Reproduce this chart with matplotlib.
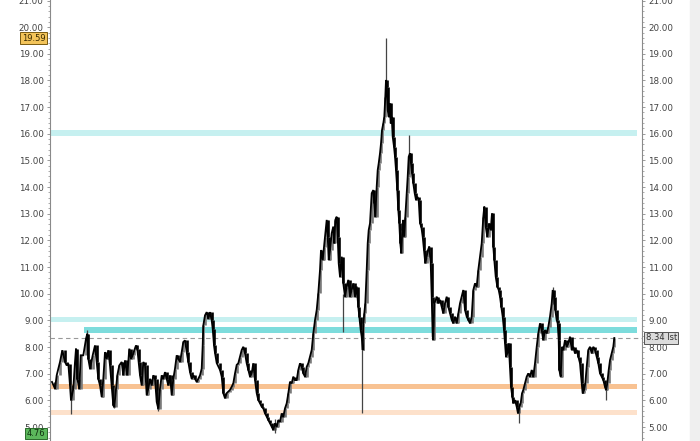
import matplotlib
matplotlib.use("Agg")
import matplotlib.pyplot as plt
from matplotlib.patches import Rectangle
from matplotlib.ticker import MultipleLocator, FormatStrFormatter
from matplotlib.transforms import blended_transform_factory

# session number and closing price
t = [0, 3, 4.7, 8, 10.3, 13, 14.7, 16.3, 18, 19, 21.3, 23, 24, 25.3, 27.3, 28.7, 31.3, 34, 35.3, 36.3,
     38, 40.7, 43, 44.7, 46.3, 48, 49.7, 51.3, 53, 54.7, 56.3, 58, 59.7, 61.3, 62.3, 64, 65.3, 67.3, 69.7, 71.3,
     73, 75.3, 77.3, 79, 80.7, 82.3, 84, 85.3, 86.7, 88, 89.7, 91.3, 93, 94.7, 96.3, 98, 99.7, 101.3, 103, 104.7,
     106.3, 108, 109.7, 111.3, 113, 114.7, 116.3, 118, 119.7, 121.3, 123, 124.7, 126.3, 128, 129.7, 131.3, 133, 134.7, 136.3, 138,
     139.7, 141.3, 143, 144.7, 146.3, 148, 149.7, 150.7, 151.3, 153, 154.7, 156.3, 158, 159.7, 160.7, 162,
     163, 164.7, 168, 169.7, 171.3, 173, 174.7, 176.3, 178, 179.7, 181.3, 183, 184.7, 186.3, 188, 189.7, 191.3, 193, 194.7, 196.3,
     198, 199.7, 201.3, 203, 204.7, 206.3, 208, 209.7, 211.3, 213, 214.7, 216.3, 218, 219.7, 221.3, 223, 224.7, 226.3, 228, 229.7,
     231.3, 233, 234.7, 236.3, 238, 239.7, 241.3, 243, 244.7, 246.3, 248, 249.7, 251.3, 253, 254.7, 256.3, 258, 259.7, 261.3, 263,
     264.7, 266.3, 268, 269, 270.7, 272, 273, 274.7, 275.7, 276.7, 278, 279.7, 281.3, 282.3, 283.3, 284.7, 285.7, 286.7, 288,
     289.7, 291.3, 293, 294.7, 296.3, 298, 299.7, 301.3, 303, 304.7, 306.3, 307.3, 308.7, 309.7, 310.7, 311.3, 312.3, 313.3, 314.7, 315.7,
     316.7, 318, 319.7, 321.3, 322.3, 323.3, 324.7, 325.7, 326.7, 328, 329, 330, 331.3, 332.3, 333.3, 334, 334.7, 335.7, 336.7, 337.7,
     338.7, 339.7, 340.7, 342, 343, 344, 345.3, 346.3, 347.3, 348.3, 349.3, 350.3, 351.3, 352.3, 353.3, 354.7, 355.7, 356.7, 358, 359,
     360, 361.3, 362.7, 364, 365.3, 366.7, 368, 369.3, 370.7, 372, 373.3, 374.7, 376, 377.3, 378.7, 379.7, 380.7, 381.3, 382.3, 383.7,
     384.7, 386.3, 388, 389.7, 391.3, 393, 394.7, 396.3, 398, 399.7, 401.3, 403, 404.7, 406.3, 408, 409.7, 411.3, 413, 414.7, 416.3,
     418, 419.7, 421.3, 423, 424.7, 426.3, 428, 429.7, 431.3,
     432.3, 433.7, 435.3, 437, 438.7, 440, 441.3, 442.3, 443.7, 445.3, 446.7, 448, 449.3, 450.7, 452, 453, 454, 455.3, 456.7, 458,
     459, 460.3, 461.3, 463, 464.7, 466, 467.3, 468.7, 470, 471.3, 473, 474.7, 476.3, 478, 479.7, 481.3, 483, 484.7, 486.3, 488,
     489.7, 491.3, 493, 494.7, 496.3, 498, 499.7, 500.7, 502, 503.3, 504.7, 505.7, 506.7, 507.3, 508.7, 510, 511.3, 513, 514.7, 516.3,
     518, 519.7, 521.3, 523, 524.7, 526.3, 528, 529.7, 530.7, 532, 533.3, 534.7, 536.3, 538, 539.7, 541.3, 543, 544.7, 546.3, 548,
     549.7, 551.3, 553, 554, 555.3, 556.7, 558, 559.7, 561.3, 562.3]

close = [6.69, 6.44, 6.94, 7.44, 7.88, 7.44, 7.31, 7.38, 6.56, 6.0, 6.44, 7.44, 7.94, 6.81, 6.44, 7.69, 7.69, 8.31, 8.5, 7.56,
         7.19, 7.69, 8.06, 7.44, 6.81, 6.56, 6.13, 6.81, 7.81, 7.56, 7.88, 7.31, 6.56, 5.81, 5.75, 6.44, 6.94, 7.31, 7.44, 6.94,
         7.5, 6.94, 7.94, 7.56, 7.69, 7.88, 8.06, 7.94, 7.44, 6.94, 6.56, 7.44, 7.31, 6.19, 6.44, 6.81, 6.56, 6.94, 6.81, 5.94,
         5.69, 6.44, 6.94, 6.81, 7.06, 6.81, 6.56, 6.94, 6.19, 6.81, 7.19, 7.69, 7.56, 7.44, 7.81, 8.19, 8.25, 7.81, 7.44, 7.06,
         6.81, 6.94, 6.81, 6.69, 6.81, 6.94, 7.19, 8.06, 8.81, 9.19, 9.31, 9.06, 9.31, 9.0, 8.69, 8.06,
         7.78, 7.4, 7.14, 6.89, 6.27, 6.08, 6.27, 6.33, 6.39, 6.51, 6.64, 7.01, 7.33, 7.39, 7.64, 7.89, 8.01, 7.76, 7.39, 7.14,
         6.89, 7.01, 7.39, 6.76, 6.27, 6.01, 5.89, 5.76, 5.70, 5.51, 5.39, 5.26, 5.14, 5.01, 4.89, 5.14, 5.01, 5.26, 5.2, 5.51,
         5.39, 5.70, 5.89, 6.26, 6.70, 6.64, 6.89, 6.76, 6.76, 7.14, 7.39, 7.26, 7.01, 6.89, 7.26, 7.39, 7.64, 7.89, 8.51, 9.01,
         9.39, 10.02, 10.89, 11.64, 11.27, 11.77, 12.14, 12.77, 12.14, 11.27, 11.64, 12.27, 12.52, 11.89, 12.77, 12.89, 12.14, 11.14, 10.64,
         11.39, 10.39, 9.89, 10.27, 10.52, 9.89, 10.14, 10.39, 9.89, 10.27, 9.51, 9.14, 8.64, 8.39, 7.89, 8.89, 9.26, 9.64, 10.89, 11.89,
         12.39, 12.64, 13.77, 13.89, 13.39, 12.89, 14.02, 14.64, 14.89, 15.27, 15.64, 16.14, 16.39, 16.64, 17.39, 18.02, 17.77, 16.89, 16.64, 17.14,
         16.39, 16.64, 15.89, 15.52, 15.14, 14.64, 13.89, 13.14, 12.64, 11.89, 11.52, 12.39, 12.77, 12.14, 12.89, 13.77, 14.39, 15.14, 15.27, 14.89,
         14.52, 14.14, 13.77, 13.52, 13.64, 13.52, 12.64, 12.52, 12.14, 11.64, 11.14, 11.39, 11.64, 11.77, 11.14, 9.89, 8.39, 8.27, 9.64, 9.77,
         9.89, 9.64, 9.77, 9.51, 9.26, 9.64, 9.89, 9.51, 9.26, 9.02, 8.89, 9.14, 8.89, 9.26, 9.64, 9.89, 10.14, 9.39, 9.14, 9.02,
         8.89, 9.14, 10.14, 10.39, 10.27, 10.89, 11.39, 11.89, 12.89,
         13.27, 12.52, 12.14, 12.64, 12.39, 13.02, 11.77, 11.27, 10.64, 10.27, 10.14, 9.89, 9.51, 9.14, 8.64, 8.14, 7.64, 7.76, 8.14, 7.26,
         6.51, 6.14, 5.89, 6.01, 5.76, 5.51, 5.76, 5.89, 6.26, 6.39, 6.64, 6.89, 7.01, 6.89, 7.14, 6.89, 7.39, 8.01, 8.51, 8.89,
         8.64, 8.26, 8.64, 8.51, 8.76, 9.14, 9.64, 10.14, 9.89, 9.39, 9.01, 8.89, 8.26, 7.14, 6.89, 8.01, 7.89, 8.26, 8.01, 8.14,
         8.39, 7.89, 8.01, 7.76, 7.89, 7.64, 7.39, 6.64, 6.26, 6.39, 6.64, 7.26, 7.89, 8.01, 7.76, 8.01, 7.89, 7.64, 7.39, 7.01,
         6.89, 6.76, 6.51, 6.39, 6.64, 7.14, 7.51, 7.76, 8.01, 8.34]

# long wicks that stick out of the close path
wick_t = [19, 35.3, 62.3, 106.3, 223, 291.3, 309.7, 334, 356.7, 467.3, 500.7, 554]
wick_lo = [5.5, 7.9, 5.7, 5.6, 4.76, 8.55, 5.52, 17.5, 14.5, 5.14, 9.6, 6.0]
wick_hi = [6.6, 8.65, 6.5, 6.4, 5.3, 10.0, 8.6, 19.59, 15.95, 5.9, 10.25, 6.6]

# support / resistance zones
zone_lo = [15.9, 8.95, 8.52, 6.42, 5.46]
zone_hi = [16.13, 9.13, 8.75, 6.61, 5.63]
zone_color = ["#c6f0f0", "#c6f0f0", "#7ddcdc", "#f8c292", "#fde1cb"]
zone_start = [0.0, 0.0, 0.057, 0.0, 0.0]

hi_val, lo_val, last_val = 19.59, 4.76, 8.34

fig = plt.figure(figsize=(7, 4.41), dpi=100)
fig.patches.append(Rectangle((690 / 700, 0), 10 / 700, 1, transform=fig.transFigure,
                             color="#efefef", zorder=0))
ax = fig.add_axes([50 / 700, 0, 592 / 700, 1])
ax.set_xlim(-2, 590)
ax.set_ylim(4.475, 21.02)

for lo, hi, c, x0 in zip(zone_lo, zone_hi, zone_color, zone_start):
    ax.axhspan(lo, hi, xmin=x0, xmax=0.9916, color=c, lw=0, zorder=1)
ax.axhline(last_val, color="#999999", lw=0.8, dashes=(4, 3), zorder=2)

# bars: open = previous close
for i in range(1, len(close)):
    up = close[i] >= close[i - 1]
    ax.vlines(t[i], close[i - 1], close[i], color="#7a7a7a" if up else "black",
              lw=1.9, zorder=3)
ax.vlines(wick_t, wick_lo, wick_hi, color="#444444", lw=0.9, zorder=3)
ax.plot(t, close, color="black", lw=1.3, zorder=4, solid_joinstyle="miter")

# axes style
for s in ["top", "bottom"]:
    ax.spines[s].set_visible(False)
for s in ["left", "right"]:
    ax.spines[s].set_color("#8a8a8a")
    ax.spines[s].set_linewidth(0.8)
ax.set_xticks([])
ax.yaxis.set_major_locator(MultipleLocator(1))
ax.yaxis.set_minor_locator(MultipleLocator(0.2))
ax.yaxis.set_major_formatter(FormatStrFormatter("%.2f"))
ax.tick_params(axis="y", which="both", left=True, right=True, labelleft=True,
               labelright=True, colors="#8a8a8a", labelcolor="#444444", labelsize=6.3)
ax.tick_params(axis="y", which="major", length=2.5, width=0.6, pad=2)
ax.tick_params(axis="y", which="minor", length=1.2, width=0.5)

# price labels on the axes
tr = blended_transform_factory(ax.transAxes, ax.transData)
ax.text(-0.008, hi_val, f"{hi_val:.2f}", transform=tr, ha="right", va="center", fontsize=6,
        color="#3a2a00", bbox=dict(boxstyle="square,pad=0.15", fc="#f3c45a", ec="#7a5a10", lw=0.7),
        zorder=6, clip_on=False)
ax.text(-0.008, lo_val, f"{lo_val:.2f}", transform=tr, ha="right", va="center", fontsize=6,
        color="#103010", bbox=dict(boxstyle="square,pad=0.15", fc="#5cb85c", ec="#2a6a2a", lw=0.7),
        zorder=6, clip_on=False)
ax.text(1.006, last_val, f"{last_val:.2f} lst", transform=tr, ha="left", va="center", fontsize=6,
        color="#333333", bbox=dict(boxstyle="square,pad=0.15", fc="#dcdcdc", ec="#555555", lw=0.7),
        zorder=6, clip_on=False)

plt.savefig("out.png", dpi=100)
